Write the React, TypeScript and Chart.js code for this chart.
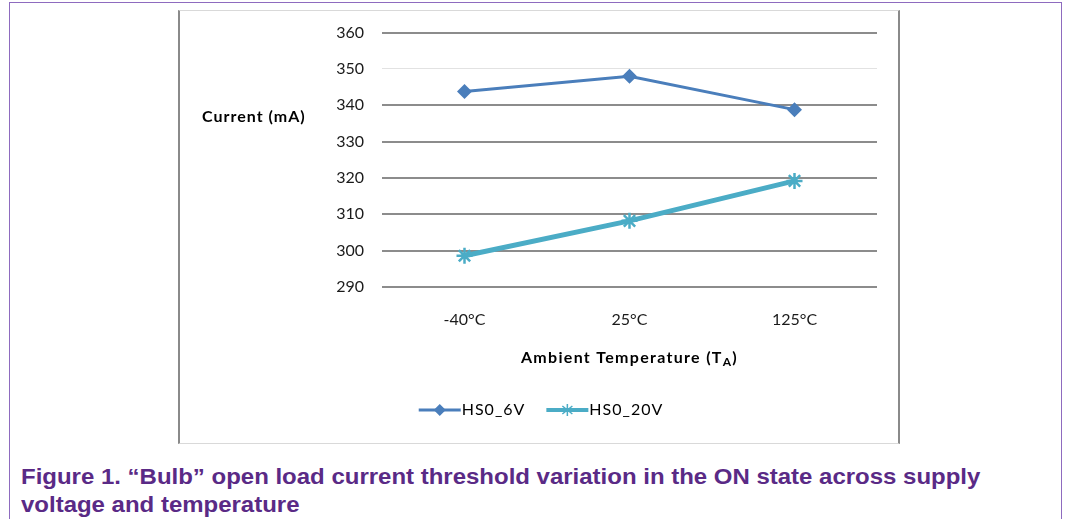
import React, { useEffect, useRef } from "react";
import { Chart, registerables } from "chart.js";

Chart.register(...registerables);

const categories = ["-40°C", "25°C", "125°C"];
const hs06V = [343.8, 348.0, 338.8];
const hs020V = [298.6, 308.2, 319.2];
const seriesNames = ["HS0_6V", "HS0_20V"];
const yMin = 290;
const yMax = 360;
const yStep = 10;

const C6 = "#4a7ebb";
const C20 = "#4bacc6";
const FONT = "Lato, 'Open Sans', sans-serif";

const overlayPlugin = {
  id: "overlay",
  afterDraw(chart: any) {
    const ctx = chart.ctx as any;
    const area = chart.chartArea;
    const W = chart.width;
    ctx.save();
    ctx.letterSpacing = "1px";
    // Y axis title (horizontal)
    ctx.fillStyle = "#000";
    ctx.font = `bold 16px ${FONT}`;
    ctx.textAlign = "left";
    ctx.textBaseline = "middle";
    ctx.fillText("Current (mA)", 22, area.top + 84);

    // X axis title with subscript
    ctx.letterSpacing = "1.3px";
    const main = "Ambient Temperature (T";
    const sub = "A";
    const end = ")";
    ctx.font = `bold 16px ${FONT}`;
    const wMain = ctx.measureText(main).width;
    const wEnd = ctx.measureText(end).width;
    ctx.font = `bold 12px ${FONT}`;
    const wSub = ctx.measureText(sub).width;
    const total = wMain + wSub + wEnd;
    const cx = (area.left + area.right) / 2;
    let x = cx - total / 2;
    const y = area.bottom + 71;
    ctx.font = `bold 16px ${FONT}`;
    ctx.fillText(main, x, y);
    x += wMain;
    ctx.font = `bold 12px ${FONT}`;
    ctx.fillText(sub, x, y + 4);
    x += wSub;
    ctx.font = `bold 16px ${FONT}`;
    ctx.fillText(end, x, y);

    // Legend
    ctx.letterSpacing = "1px";
    ctx.font = `16px ${FONT}`;
    const lineLen = 42;
    const gapText = 1;
    const gapItem = 21;
    const widths = seriesNames.map((n) => lineLen + gapText + ctx.measureText(n).width);
    const legW = widths[0] + gapItem + widths[1];
    let lx = W / 2 - legW / 2 + 2;
    const ly = area.bottom + 123;
    const colors = [C6, C20];
    seriesNames.forEach((name, i) => {
      ctx.strokeStyle = colors[i];
      ctx.lineWidth = i === 0 ? 3 : 4;
      ctx.beginPath();
      ctx.moveTo(lx, ly);
      ctx.lineTo(lx + lineLen, ly);
      ctx.stroke();
      const mx = lx + lineLen / 2;
      if (i === 0) {
        ctx.fillStyle = colors[i];
        ctx.beginPath();
        ctx.moveTo(mx, ly - 6);
        ctx.lineTo(mx + 6, ly);
        ctx.lineTo(mx, ly + 6);
        ctx.lineTo(mx - 6, ly);
        ctx.closePath();
        ctx.fill();
      } else {
        ctx.lineWidth = 1.5;
        ctx.beginPath();
        ctx.moveTo(mx, ly - 6);
        ctx.lineTo(mx, ly + 6);
        ctx.moveTo(mx - 5, ly - 4);
        ctx.lineTo(mx + 5, ly + 4);
        ctx.moveTo(mx - 5, ly + 4);
        ctx.lineTo(mx + 5, ly - 4);
        ctx.stroke();
      }
      ctx.fillStyle = "#000";
      ctx.textAlign = "left";
      ctx.textBaseline = "middle";
      ctx.fillText(name, lx + lineLen + gapText, ly);
      lx += widths[i] + gapItem;
    });
    ctx.restore();
  },
};

export default function App() {
  const ref = useRef<HTMLCanvasElement>(null);
  useEffect(() => {
    if (!ref.current) return;
    const chart = new Chart(ref.current, {
      type: "line",
      data: {
        labels: categories,
        datasets: [
          {
            label: seriesNames[0],
            data: hs06V,
            borderColor: C6,
            backgroundColor: C6,
            borderWidth: 3,
            pointStyle: "rectRot",
            pointRadius: 7.5,
            pointBorderWidth: 0,
            pointBackgroundColor: C6,
            tension: 0,
          },
          {
            label: seriesNames[1],
            data: hs020V,
            borderColor: C20,
            backgroundColor: C20,
            borderWidth: 5,
            pointStyle: "star",
            pointRadius: 8,
            pointBorderWidth: 2.5,
            pointBorderColor: C20,
            tension: 0,
          },
        ],
      },
      options: {
        animation: false,
        responsive: false,
        maintainAspectRatio: false,
        layout: { padding: { left: 0, right: 21, top: 10, bottom: 0 } },
        plugins: {
          legend: { display: false },
          tooltip: { enabled: false },
          title: { display: false },
        },
        scales: {
          x: {
            offset: true,
            grid: { display: false, drawTicks: false },
            border: { display: false },
            ticks: {
              padding: 23,
              color: "#1a1a1a",
              font: { family: FONT, size: 16 },
            },
            afterFit(scale: any) {
              scale.height = 155;
            },
          },
          y: {
            min: yMin,
            max: yMax,
            grid: {
              color: (c: any) => (c.tick && c.tick.value === 350 ? "#e2e2e2" : "#8c8c8c"),
              lineWidth: (c: any) => (c.tick && c.tick.value === 350 ? 1 : 2),
              drawTicks: false,
            },
            border: { display: false },
            ticks: {
              stepSize: yStep,
              padding: 18,
              color: "#1a1a1a",
              font: { family: FONT, size: 16 },
            },
            afterFit(scale: any) {
              scale.width = 202;
            },
          },
        },
      },
      plugins: [overlayPlugin],
    });
    return () => chart.destroy();
  }, []);

  return (
    <div style={{ position: "absolute", left: 0, top: 0, width: 1066, height: 519, overflow: "hidden", background: "#fff" }}>
      <div
        style={{
          position: "absolute",
          left: 9,
          top: 2,
          width: 1053,
          height: 530,
          borderLeft: "1.5px solid #8e6bbf",
          borderTop: "1.5px solid #8e6bbf",
          borderRight: "1.5px solid #8e6bbf",
          boxSizing: "border-box",
        }}
      />
      <div
        style={{
          position: "absolute",
          left: 178,
          top: 10,
          width: 722,
          height: 434,
          borderLeft: "2px solid #8a8a8a",
          borderRight: "2px solid #8a8a8a",
          borderTop: "1px solid #d9d9d9",
          borderBottom: "1px solid #d9d9d9",
          boxSizing: "border-box",
        }}
      />
      <canvas ref={ref} width={718} height={437} style={{ position: "absolute", left: 180, top: 5 }} />
      <div
        style={{
          position: "absolute",
          left: 21,
          top: 463,
          width: 1030,
          whiteSpace: "nowrap",
          fontFamily: "'Liberation Sans', Arial, sans-serif",
          fontWeight: "bold",
          fontSize: 22,
          lineHeight: "28px",
          color: "#5a2a86",
          transform: "scaleX(1.09)",
          transformOrigin: "left top",
        }}
      >
        Figure 1. “Bulb” open load current threshold variation in the ON state across supply
        <br />
        voltage and temperature
      </div>
    </div>
  );
}
